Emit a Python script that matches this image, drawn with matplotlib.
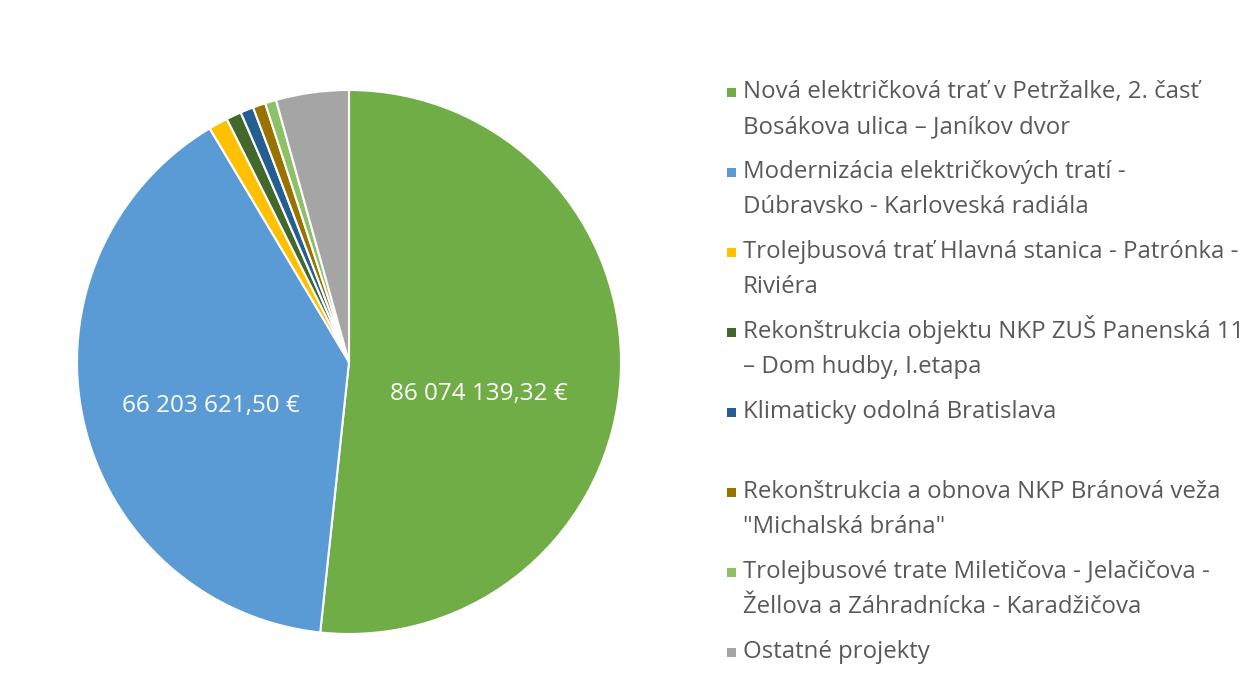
import numpy as np
import matplotlib
matplotlib.use("Agg")
import matplotlib.pyplot as plt
from matplotlib.patches import Rectangle

# project names (legend) and amounts in EUR
projects = [
    "Nová električková trať v Petržalke, 2. časť\nBosákova ulica – Janíkov dvor",
    "Modernizácia električkových tratí -\nDúbravsko - Karloveská radiála",
    "Trolejbusová trať Hlavná stanica - Patrónka -\nRiviéra",
    "Rekonštrukcia objektu NKP ZUŠ Panenská 11\n– Dom hudby, I.etapa",
    "Klimaticky odolná Bratislava\n ",
    "Rekonštrukcia a obnova NKP Bránová veža\n\"Michalská brána\"",
    "Trolejbusové trate Miletičova - Jelačičova -\nŽellova a Záhradnícka - Karadžičova",
    "Ostatné projekty",
]
amounts = [86074139.32, 66203621.50, 1900000, 1500000, 1300000, 1250000, 1100000, 7200000]
value_labels = ["86 074 139,32 €", "66 203 621,50 €"]
colors = ["#70AD47", "#5B9BD5", "#FFC000", "#43682B", "#255E91",
          "#997300", "#8CC168", "#A5A5A5"]

plt.rcParams["font.family"] = ["Open Sans", "DejaVu Sans"]

W, H = 1256, 697
fig = plt.figure(figsize=(W / 100, H / 100), dpi=100)

# pie centre (349, 362) px, radius 272 px
cx, cy, r = 349, 362, 272
ax = fig.add_axes([(cx - r) / W, (H - cy - r) / H, 2 * r / W, 2 * r / H])
wedges, _ = ax.pie(amounts, colors=colors, startangle=90, counterclock=False,
                   radius=1, wedgeprops=dict(edgecolor="white", linewidth=1.5))
ax.set_xlim(-1, 1)
ax.set_ylim(-1, 1)
ax.set_aspect("equal")
ax.axis("off")

# value labels on the two big slices
shifts = [(-0.04, -0.09), (0.0, -0.05)]
for w, lab, (sx, sy) in zip(wedges[:2], value_labels, shifts):
    mid = np.deg2rad((w.theta1 + w.theta2) / 2)
    ax.text(0.52 * np.cos(mid) + sx, 0.52 * np.sin(mid) + sy, lab,
            ha="center", va="center", color="white", fontsize=17.5)

# legend drawn by hand
text_x = 743
first_baseline = 98
entry_step = 80
line_step = 35
for i, (name, col) in enumerate(zip(projects, colors)):
    base = first_baseline + i * entry_step
    fig.add_artist(Rectangle(((text_x - 16) / W, 1 - (base - 1) / H), 9 / W, 9 / H,
                             transform=fig.transFigure, color=col, lw=0))
    for j, line in enumerate(name.split("\n")):
        fig.text(text_x / W, 1 - (base + j * line_step) / H, line,
                 ha="left", va="baseline", color="#595959", fontsize=17.3)

fig.savefig("out.png", dpi=100, facecolor="white")
